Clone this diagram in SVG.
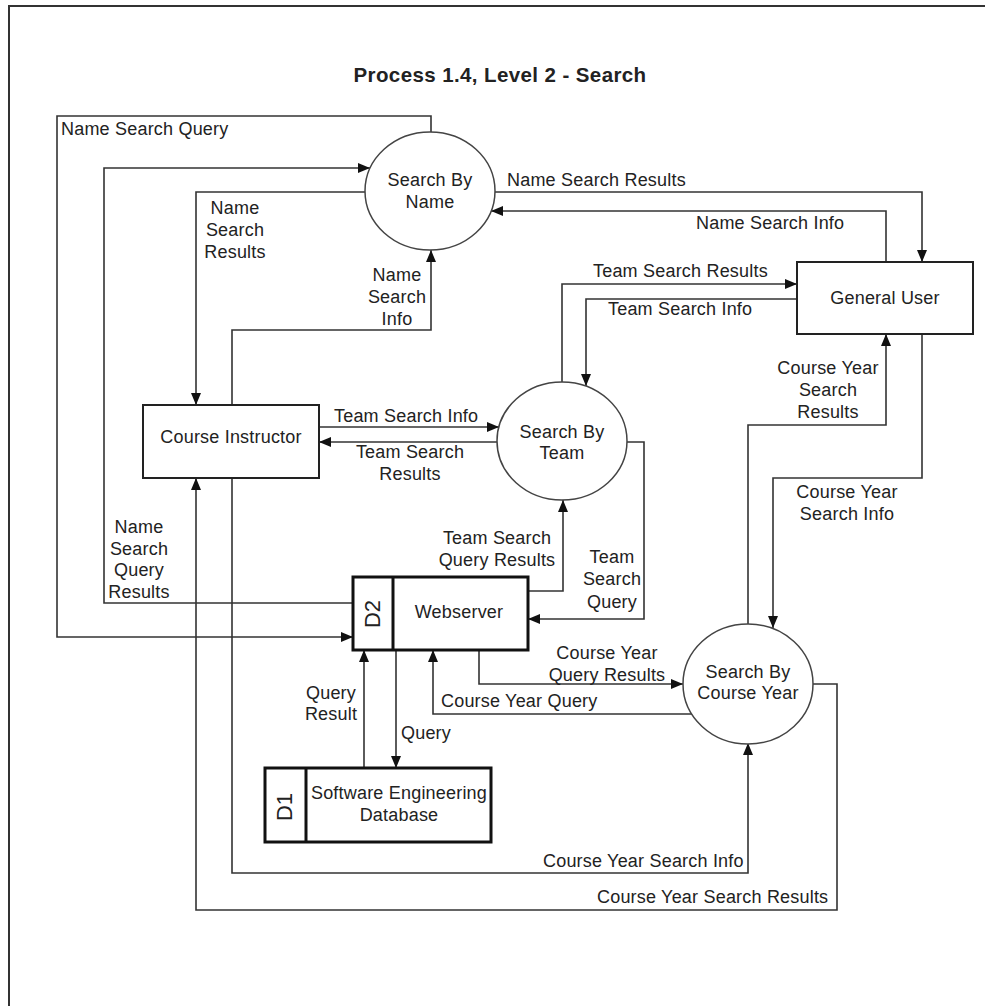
<svg xmlns="http://www.w3.org/2000/svg" width="985" height="1006" viewBox="0 0 985 1006">
<defs>
<style>
text{font-family:"Liberation Sans",Arial,sans-serif;font-size:18px;letter-spacing:0.2px;fill:#222}
.t{font-weight:bold;font-size:20.5px;letter-spacing:0.4px}
.m{text-anchor:middle}
.ln{fill:none;stroke:#333;stroke-width:1.6}
.box{fill:#fff;stroke:#222;stroke-width:2}
.ds{fill:#fff;stroke:#111;stroke-width:3}
.proc{fill:#fff;stroke:#444;stroke-width:1.5}
.dl{font-size:22px;letter-spacing:0}
</style>
<marker id="a" viewBox="0 0 12 10" refX="12" refY="5" markerWidth="12" markerHeight="10" markerUnits="userSpaceOnUse" orient="auto"><path d="M0,0L12,5L0,10z" fill="#111"/></marker>
</defs>
<rect x="9" y="6" width="1000" height="1020" fill="none" stroke="#333" stroke-width="2"/>
<text class="t m" x="500" y="82">Process 1.4, Level 2 - Search</text>

<g id="connectors">
<polyline class="ln" points="431,132 431,116 57,116 57,637 353,637" marker-end="url(#a)"/>
<polyline class="ln" points="353,603 104,603 104,168 370,168" marker-end="url(#a)"/>
<polyline class="ln" points="365,192 196,192 196,405" marker-end="url(#a)"/>
<polyline class="ln" points="232,405 232,330 431,330 431,250" marker-end="url(#a)"/>
<polyline class="ln" points="495,192 922,192 922,262" marker-end="url(#a)"/>
<polyline class="ln" points="886,262 886,211 491,211" marker-end="url(#a)"/>
<polyline class="ln" points="562,382 562,284 797,284" marker-end="url(#a)"/>
<polyline class="ln" points="797,299 586,299 586,386" marker-end="url(#a)"/>
<polyline class="ln" points="748,624 748,425 886,425 886,334" marker-end="url(#a)"/>
<polyline class="ln" points="922,334 922,478 773,478 773,628" marker-end="url(#a)"/>
<polyline class="ln" points="319,427 499,427" marker-end="url(#a)"/>
<polyline class="ln" points="497,442 319,442" marker-end="url(#a)"/>
<polyline class="ln" points="627,442 644,442 644,619 528,619" marker-end="url(#a)"/>
<polyline class="ln" points="528,591 563,591 563,500" marker-end="url(#a)"/>
<polyline class="ln" points="364,768 364,650" marker-end="url(#a)"/>
<polyline class="ln" points="396,650 396,768" marker-end="url(#a)"/>
<polyline class="ln" points="692,714 433,714 433,650" marker-end="url(#a)"/>
<polyline class="ln" points="479,650 479,684 683,684" marker-end="url(#a)"/>
<polyline class="ln" points="232,478 232,873 748,873 748,743" marker-end="url(#a)"/>
<polyline class="ln" points="813,684 837,684 837,910 196,910 196,478" marker-end="url(#a)"/>
</g>

<g id="labels">
<text x="61" y="135">Name Search Query</text>
<text x="507" y="186">Name Search Results</text>
<text x="696" y="229">Name Search Info</text>
<text class="m" x="235" y="214">Name</text>
<text class="m" x="235" y="236">Search</text>
<text class="m" x="235" y="258">Results</text>
<text class="m" x="397" y="281">Name</text>
<text class="m" x="397" y="303">Search</text>
<text class="m" x="397" y="325">Info</text>
<text x="593" y="277">Team Search Results</text>
<text x="608" y="315">Team Search Info</text>
<text class="m" x="828" y="374">Course Year</text>
<text class="m" x="828" y="396">Search</text>
<text class="m" x="828" y="418">Results</text>
<text class="m" x="847" y="498">Course Year</text>
<text class="m" x="847" y="520">Search Info</text>
<text x="334" y="422">Team Search Info</text>
<text class="m" x="410" y="458">Team Search</text>
<text class="m" x="410" y="480">Results</text>
<text class="m" x="139" y="533">Name</text>
<text class="m" x="139" y="555">Search</text>
<text class="m" x="139" y="576">Query</text>
<text class="m" x="139" y="598">Results</text>
<text class="m" x="497" y="544">Team Search</text>
<text class="m" x="497" y="566">Query Results</text>
<text class="m" x="612" y="563">Team</text>
<text class="m" x="612" y="585">Search</text>
<text class="m" x="612" y="608">Query</text>
<text class="m" x="607" y="659">Course Year</text>
<text class="m" x="607" y="681">Query Results</text>
<text x="441" y="707">Course Year Query</text>
<text class="m" x="331" y="699">Query</text>
<text class="m" x="331" y="720">Result</text>
<text x="401" y="739">Query</text>
<text x="543" y="867">Course Year Search Info</text>
<text x="597" y="903">Course Year Search Results</text>
</g>

<g id="search-by-name">
<ellipse class="proc" cx="430" cy="191" rx="65" ry="59"/>
<text class="m" x="430" y="186">Search By</text>
<text class="m" x="430" y="208">Name</text>
</g>
<g id="search-by-team">
<ellipse class="proc" cx="562" cy="441" rx="65" ry="59"/>
<text class="m" x="562" y="438">Search By</text>
<text class="m" x="562" y="459">Team</text>
</g>
<g id="search-by-course-year">
<ellipse class="proc" cx="748" cy="684" rx="65" ry="60"/>
<text class="m" x="748" y="678">Search By</text>
<text class="m" x="748" y="699">Course Year</text>
</g>
<g id="general-user">
<rect class="box" x="797" y="262" width="176" height="72"/>
<text class="m" x="885" y="304">General User</text>
</g>
<g id="course-instructor">
<rect class="box" x="143" y="405" width="176" height="73"/>
<text class="m" x="231" y="443">Course Instructor</text>
</g>
<g id="webserver">
<rect class="ds" x="353" y="577" width="175" height="73"/>
<line class="ds" x1="393" y1="577" x2="393" y2="650"/>
<text class="dl m" transform="translate(380,614) rotate(-90)">D2</text>
<text class="m" x="459" y="618">Webserver</text>
</g>
<g id="database">
<rect class="ds" x="265" y="768" width="226" height="74"/>
<line class="ds" x1="306" y1="768" x2="306" y2="842"/>
<text class="dl m" transform="translate(292,807) rotate(-90)">D1</text>
<text class="m" x="399" y="799">Software Engineering</text>
<text class="m" x="399" y="821">Database</text>
</g>
</svg>
